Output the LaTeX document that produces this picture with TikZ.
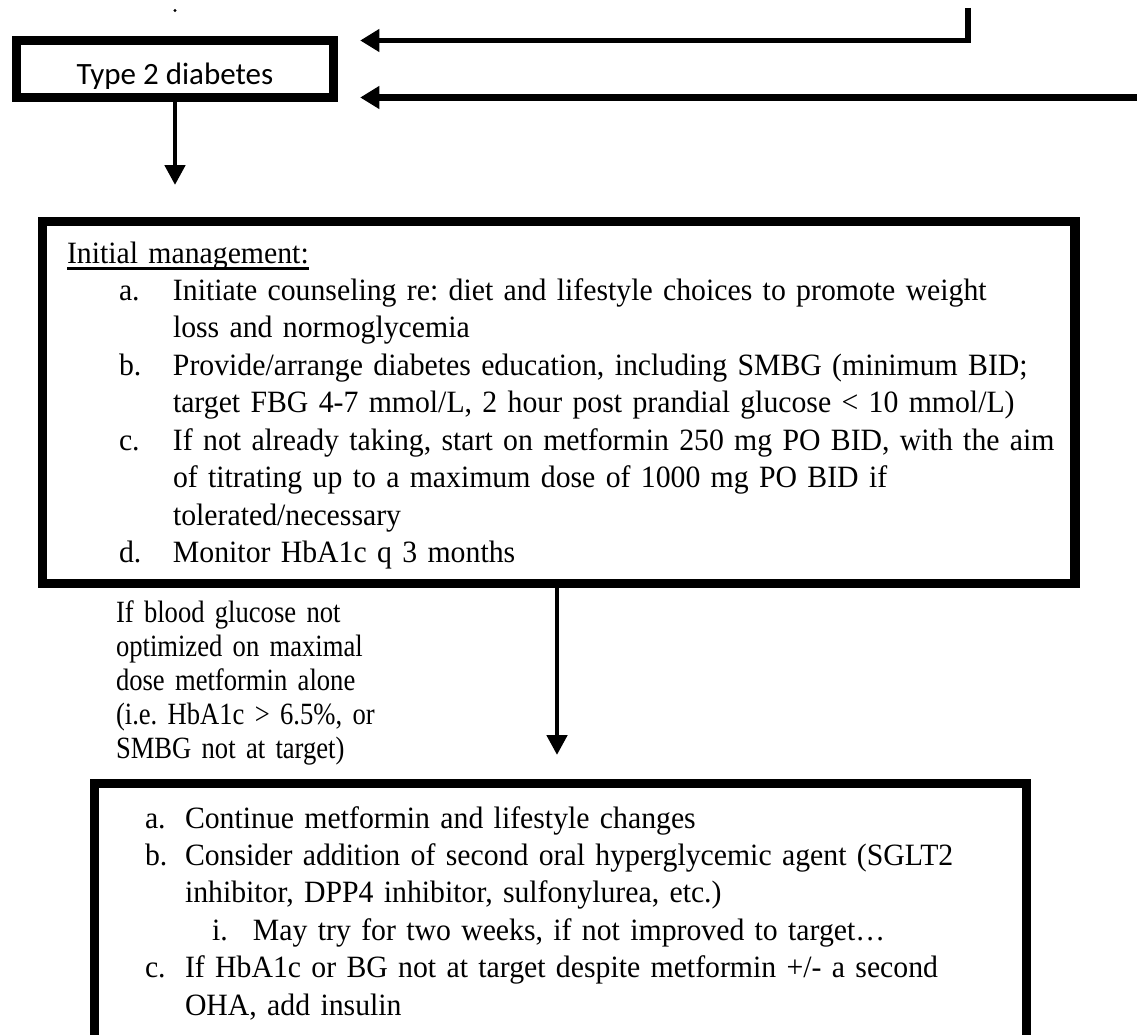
\documentclass[tikz,border=0pt]{standalone}
\usepackage{fontspec}
\setmainfont{Liberation Serif}[FakeStretch=0.96]
\newfontfamily\titlefont{Carlito}
\newfontfamily\condfont{Liberation Serif}[FakeStretch=0.86]
\usetikzlibrary{arrows.meta}
\frenchspacing

\newcommand{\mgmtul}[1]{\setbox0=\hbox{#1}\rlap{\rule[-2.6pt]{\wd0}{1.1pt}}\box0}
\newcommand{\mgmtitem}[1]{\hspace*{19.5pt}\makebox[20.25pt][l]{#1}}
\newcommand{\mgmtcont}{\hspace*{39.75pt}}
\newcommand{\nextitem}[1]{\makebox[15pt][l]{#1}}
\newcommand{\nextcont}{\hspace*{15pt}}
\newcommand{\nextsub}[1]{\hspace*{25.125pt}\makebox[15.375pt][l]{#1}}

\begin{document}
\begin{tikzpicture}[
        x=0.375pt, y=-0.375pt,
        every node/.style={inner sep=0pt, outer sep=0pt},
        box/.style={draw, line width=3.4pt},
        textbox/.style={box, align=left, font=\fontsize{11.625pt}{14.06pt}\selectfont},
        arrow/.style={-{Triangle[length=7.5pt, width=7.5pt]}, line width=1.8pt},
        backarrow/.style={-{Triangle[length=7.2pt, width=8.2pt]}, line width=2pt, shorten >=10pt},
    ]
    \useasboundingbox (0,0) rectangle (1137,1034);
    \fill (175,10.5) circle[radius=1.7];
    \begin{scope}
        \clip (0,0) rectangle (1137,1034) (60,86) -- (60,92) -- (290,92) -- (290,86) -- cycle;
        \node[box, minimum width=118.875pt, minimum height=21.375pt, text height=12pt, text depth=0pt,
            font=\titlefont\fontsize{11.625pt}{14pt}\selectfont] (type2) at (175,69) {Type 2 diabetes};
    \end{scope}
    \node[textbox, text width=368.8pt, inner xsep=9.19pt, text height=15.56pt, text depth=120.19pt,
        anchor=base west] (mgmt) at (42.5,263) {\begin{tabular}[t]{@{}l@{}}
        \mgmtul{Initial management:}\\
        \mgmtitem{a.}Initiate counseling re: diet and lifestyle choices to promote weight\\
        \mgmtcont loss and normoglycemia\\
        \mgmtitem{b.}Provide/arrange diabetes education, including SMBG (minimum BID;\\
        \mgmtcont target FBG 4-7 mmol/L, 2 hour post prandial glucose < 10 mmol/L)\\
        \mgmtitem{c.}If not already taking, start on metformin 250 mg PO BID, with the aim\\
        \mgmtcont of titrating up to a maximum dose of 1000 mg PO BID if\\
        \mgmtcont tolerated/necessary\\
        \mgmtitem{d.}Monitor HbA1c q 3 months
        \end{tabular}};
    \node[anchor=base west, text width=112.5pt, align=left,
        font=\condfont\fontsize{11.6pt}{12.75pt}\selectfont] (cond) at (116,622)
        {If blood glucose not\\optimized on maximal\\dose metformin alone\\(i.e. HbA1c > 6.5\%, or\\SMBG not at target)};
    \node[textbox, text width=311.6pt, inner xsep=18.94pt, text height=16.69pt, text depth=87pt,
        anchor=base west] (next) at (94.5,828) {\begin{tabular}[t]{@{}l@{}}
        \nextitem{a.}Continue metformin and lifestyle changes\\
        \nextitem{b.}Consider addition of second oral hyperglycemic agent (SGLT2\\
        \nextcont inhibitor, DPP4 inhibitor, sulfonylurea, etc.)\\
        \nextsub{i.}May try for two weeks, if not improved to target…\\
        \nextitem{c.}If HbA1c or BG not at target despite metformin +/- a second\\
        \nextcont OHA, add insulin
        \end{tabular}};
    \coordinate (mgmtin) at (175,185);
    \coordinate (nextin) at (557,755);
    \coordinate (fromabove) at (968,8);
    \coordinate (fromright) at (1145,97.5);
    \draw[arrow] (type2) -- (mgmtin);
    \draw[arrow] (mgmt.south -| nextin) -- (nextin);
    \draw[backarrow] (fromabove) |- (type2.north east);
    \draw[backarrow, line width=2.6pt] (fromright) -- (type2.south east);
\end{tikzpicture}
\end{document}
